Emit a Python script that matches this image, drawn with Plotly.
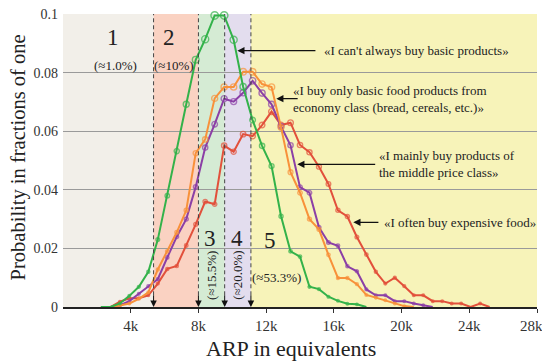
import plotly.graph_objects as go
import numpy as np

# ARP grid (equivalents)
arp = [2240, 2800, 3360, 3920, 4480, 5040, 5600, 6160, 6720, 7280, 7840, 8400, 8960,
       9520, 10080, 10640, 11200, 11760, 12320, 12880, 13440, 14000, 14560, 15120,
       15680, 16240, 16800, 17360, 17920, 18480, 19040, 19600, 20160, 20720, 21280,
       21840, 22400, 22960, 23520, 24080, 24640, 25200]

basic = [0, 0, 0.0012, 0.0038, 0.0069, 0.012, 0.023, 0.038, 0.0532, 0.0692, 0.0844,
         0.0914, 0.0995, 0.0995, 0.0912, 0.0752, 0.0638, 0.055, 0.0481, 0.031, 0.019,
         0.0172, 0.0069, 0.0061, 0.0035, 0.0021, 0.0011, 0.0009, 0]
economy = [0, 0, 0.0005, 0.0012, 0.0028, 0.005, 0.0128, 0.019, 0.0255, 0.033, 0.0525,
           0.0572, 0.0712, 0.0751, 0.0751, 0.0803, 0.0803, 0.0761, 0.0751, 0.0613,
           0.046, 0.039, 0.030, 0.0265, 0.0178, 0.0099, 0.0099, 0.0078, 0.0041, 0.0032,
           0.0023, 0.0012, 0.0003, 0]
middle = [0, 0, 0.0006, 0.002, 0.0045, 0.0071, 0.0095, 0.0169, 0.024, 0.030, 0.041,
          0.0544, 0.0624, 0.0711, 0.0701, 0.0731, 0.0772, 0.073, 0.0692, 0.0616, 0.0552,
          0.0409, 0.039, 0.0272, 0.022, 0.0209, 0.0139, 0.0122, 0.006, 0.004, 0.004,
          0.002, 0.002, 0.0012, 0.0006, 0]
expensive = [0, 0, 0.0018, 0.003, 0.003, 0.004, 0.008, 0.013, 0.014, 0.021, 0.0282,
             0.036, 0.0351, 0.0551, 0.053, 0.059, 0.0583, 0.0621, 0.0667, 0.0621, 0.0629,
             0.0553, 0.0528, 0.0479, 0.042, 0.033, 0.0309, 0.0239, 0.0179, 0.012, 0.008,
             0.01, 0.0071, 0.004, 0.004, 0.002, 0.002, 0.0012, 0.0012, 0, 0.0012, 0]

series_names = ["«I often buy expensive food»", "«I mainly buy products of the middle price class»",
                "«I buy only basic food products from economy class»", "«I can't always buy basic products»"]
series_values = [expensive, middle, economy, basic]
series_colors = ["#e2503b", "#8b3fa6", "#f8913a", "#33b24a"]

boundaries = [0, 5350, 8000, 9550, 11100, 28000]
region_colors = ["#f2efe9", "#fad2c2", "#d5ebd4", "#e3ddee", "#f7f3b9"]
region_nums = ["1", "2", "3", "4", "5"]
region_shares = ["(≈1.0%)", "(≈10%)", "(≈15.5%)", "(≈20.0%)", "(≈53.3%)"]

xtick_vals = [4000, 8000, 12000, 16000, 20000, 24000, 28000]
xtick_text = ["4k", "8k", "12k", "16k", "20k", "24k", "28k"]
ytick_vals = [0, 0.02, 0.04, 0.06, 0.08, 0.1]
ytick_text = ["0", "0.02", "0.04", "0.06", "0.08", "0.1"]

FONT = "'Liberation Serif', 'Times New Roman', serif"
TXT = "#222222"
YMAX = 0.1
GRID = "#9a9a9a"

fig = go.Figure()
for name, vals, col in zip(series_names, series_values, series_colors):
    yv = np.array(vals)
    xv = arp[:len(vals)]
    sizes = np.where(yv > 0, 2.5 + 50 * yv, 0)
    fig.add_trace(go.Scatter(x=xv, y=vals, name=name, mode="lines+markers",
                             line=dict(color=col, width=2),
                             marker=dict(symbol="circle-open", size=sizes,
                                         line=dict(color=col, width=1.4)),
                             hoverinfo="skip", cliponaxis=False))

shapes = []
for i in range(5):
    shapes.append(dict(type="rect", xref="x", yref="y", x0=boundaries[i], x1=boundaries[i + 1],
                       y0=0, y1=YMAX, fillcolor=region_colors[i], line=dict(width=0), layer="below"))
# top gridline (at the range edge)
shapes.append(dict(type="line", xref="paper", yref="y", x0=0, x1=1, y0=YMAX, y1=YMAX,
                   line=dict(color=GRID, width=1), layer="below"))
annotations = []
for b in boundaries[1:-1]:
    shapes.append(dict(type="line", xref="x", yref="y", x0=b, x1=b, y0=0.004, y1=YMAX,
                       line=dict(color="#444", width=1, dash="4px,3px"), layer="above"))
    annotations.append(dict(x=b, y=0, ax=b, ay=0.0045, xref="x", yref="y", axref="x", ayref="y",
                            text="", showarrow=True, arrowhead=2, arrowsize=1.3, arrowwidth=1,
                            arrowcolor="#111"))

# region labels
labels = [
    dict(x=2950, y=0.092, text=region_nums[0], font=dict(size=23)),
    dict(x=6260, y=0.092, text=region_nums[1], font=dict(size=23)),
    dict(x=3130, y=0.0825, text=region_shares[0], font=dict(size=13)),
    dict(x=6560, y=0.0825, text=region_shares[1], font=dict(size=13)),
    dict(x=8700, y=0.0234, text=region_nums[2], font=dict(size=23)),
    dict(x=10300, y=0.0234, text=region_nums[3], font=dict(size=23)),
    dict(x=12230, y=0.0228, text=region_nums[4], font=dict(size=23)),
    dict(x=8780, y=0.0108, text=region_shares[2], textangle=-90, font=dict(size=13)),
    dict(x=10300, y=0.0108, text=region_shares[3], textangle=-90, font=dict(size=13)),
    dict(x=12620, y=0.0099, text=region_shares[4], font=dict(size=13)),
]
for a in labels:
    a.update(xref="x", yref="y", showarrow=False)
annotations += labels

# callouts
callouts = [
    (15000, 10300, 0.0875, 15270, "«I can't always buy basic products»"),
    (13950, 12600, 0.0711, 13450, "«I buy only basic food products from<br>economy class (bread, cereals, etc.)»"),
    (18530, 13840, 0.0487, 18560, "«I mainly buy products of<br>the middle price class»"),
    (18720, 17150, 0.0289, 18820, "«I often buy expensive food»"),
]
for tail, tip, yy, tx, txt in callouts:
    annotations.append(dict(x=tip, y=yy, ax=tail, ay=yy, xref="x", yref="y", axref="x", ayref="y",
                            text="", showarrow=True, arrowhead=2, arrowsize=1.1, arrowwidth=1.3,
                            arrowcolor="#111"))
    annotations.append(dict(x=tx, y=yy, xref="x", yref="y", text=txt, showarrow=False,
                            xanchor="left", align="left", font=dict(size=13)))

# last x tick label kept fully inside the window
annotations.append(dict(x=1.017, y=-0.065, xref="paper", yref="paper", text=xtick_text[-1],
                        showarrow=False, xanchor="right", yanchor="middle",
                        font=dict(size=15, color="#333")))

# axis titles
annotations.append(dict(x=0.481, y=-0.14, xref="paper", yref="paper", text="ARP in equivalents",
                        showarrow=False, font=dict(size=22), yanchor="middle"))
annotations.append(dict(x=-0.092, y=0.512, xref="paper", yref="paper",
                        text="Probability in fractions of one", textangle=-90,
                        showarrow=False, font=dict(size=20.5), xanchor="center", yanchor="middle"))

# page body has an 8px default margin, so the figure is sized/offset to compensate
fig.update_layout(
    width=542, height=356,
    margin=dict(l=55, r=13, t=6, b=57),
    paper_bgcolor="white", plot_bgcolor="white",
    showlegend=False,
    font=dict(family=FONT, color=TXT, size=13),
    shapes=shapes, annotations=annotations,
    xaxis=dict(range=[0, 28000], tickvals=xtick_vals, ticktext=xtick_text[:-1] + [""],
               automargin=False,
               ticks="outside", ticklen=4, tickcolor="#333", showline=True,
               linecolor="#222", linewidth=2, showgrid=False, zeroline=False,
               ticklabeloverflow="allow",
               tickfont=dict(size=15, family=FONT, color="#333")),
    yaxis=dict(range=[0, YMAX], tickvals=ytick_vals, ticktext=ytick_text, automargin=False,
               showgrid=True, gridcolor=GRID, gridwidth=1, zeroline=False,
               showline=False, ticks="", ticklabelstandoff=4, ticklabeloverflow="allow",
               tickfont=dict(size=14, family=FONT, color="#333")),
)

fig.write_html("out.html")
